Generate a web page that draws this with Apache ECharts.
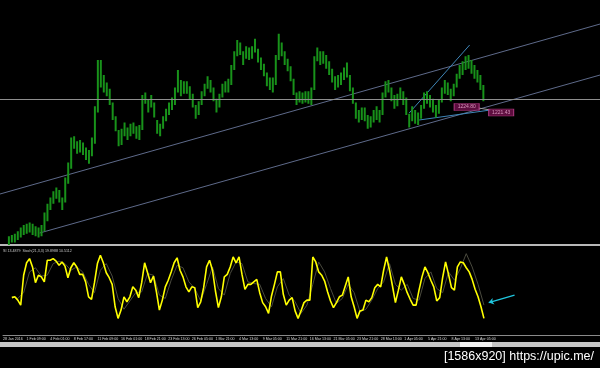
<!DOCTYPE html>
<html><head><meta charset="utf-8">
<script src="https://cdn.jsdelivr.net/npm/echarts@6/dist/echarts.min.js"></script>
<style>html,body{margin:0;padding:0;background:#000;}#c{width:600px;height:368px;}</style>
</head><body><div id="c"></div>
<script>
// ---- time axis (H1 bars) ----
const tickLabels = ["28 Jan 2016","1 Feb 09:00","4 Feb 01:00","8 Feb 17:00","11 Feb 09:00","16 Feb 01:00","18 Feb 21:00","23 Feb 13:00","26 Feb 05:00","1 Mar 21:00","4 Mar 13:00","9 Mar 05:00","11 Mar 21:00","16 Mar 13:00","21 Mar 05:00","23 Mar 21:00","28 Mar 13:00","1 Apr 05:00","5 Apr 21:00","8 Apr 13:00","13 Apr 05:00"];
const barsPerTick = 64;
const firstBar = 24, barStep = 8, signalStep = 16;

// ---- price (high / low per 8-bar sample) ----
const priceHigh = [1121,1122,1123,1125,1128,1130,1131,1132,1131,1129,
1128,1130,1140,1147,1152,1157,1160,1158,1152,1168,
1180,1200,1201,1197,1198,1196,1192,1190,1200,1225,
1262,1262,1250,1244,1239,1228,1217,1206,1207,1212,
1208,1211,1212,1209,1210,1234,1236,1230,1234,1228,
1214,1211,1217,1223,1228,1232,1240,1254,1246,1245,
1245,1241,1235,1226,1229,1237,1243,1249,1246,1240,
1231,1235,1243,1245,1247,1258,1269,1278,1276,1269,
1273,1272,1273,1279,1271,1264,1259,1252,1248,1248,
1266,1283,1276,1269,1263,1257,1247,1236,1237,1236,
1237,1237,1240,1265,1272,1269,1269,1266,1261,1255,
1249,1250,1252,1256,1260,1250,1240,1228,1222,1224,
1224,1218,1217,1222,1225,1222,1236,1245,1246,1240,
1234,1235,1240,1237,1232,1219,1225,1222,1220,1226,
1236,1237,1234,1231,1226,1230,1240,1246,1244,1239,
1243,1251,1258,1261,1265,1266,1262,1258,1254,1250,
1242];
const priceLow = [1114,1116,1116,1118,1120,1122,1123,1124,1122,1121,
1120,1121,1125,1133,1142,1147,1151,1148,1142,1148,
1163,1175,1191,1187,1188,1186,1182,1179,1185,1195,
1220,1240,1236,1233,1226,1214,1205,1193,1194,1201,
1198,1201,1203,1199,1198,1206,1227,1220,1224,1216,
1203,1201,1207,1213,1218,1222,1226,1236,1233,1235,
1235,1230,1224,1215,1218,1226,1233,1239,1236,1229,
1220,1224,1232,1236,1236,1242,1254,1265,1266,1258,
1263,1262,1263,1268,1260,1254,1249,1241,1238,1236,
1242,1262,1265,1258,1253,1245,1234,1226,1228,1227,
1228,1227,1226,1238,1261,1258,1259,1255,1250,1244,
1238,1240,1242,1246,1248,1237,1227,1215,1212,1214,
1213,1207,1208,1212,1214,1212,1218,1232,1236,1229,
1223,1225,1230,1226,1218,1208,1213,1211,1210,1215,
1223,1227,1224,1220,1216,1219,1228,1235,1234,1229,
1233,1240,1247,1250,1254,1255,1251,1247,1244,1238,
1229];

// ---- stochastic ----
const stochMain = [39,40,36,30,66,81,86,76,57,66,
64,58,84,84,86,83,78,82,77,63,
75,81,76,67,67,58,40,37,57,80,
90,81,69,63,55,28,14,24,40,34,
40,52,48,39,57,81,69,57,65,46,
24,36,52,60,70,81,87,72,64,52,
46,52,51,27,34,51,76,84,72,47,
27,40,64,67,76,88,81,88,67,49,
55,55,58,61,45,33,28,20,41,55,
70,70,43,30,36,39,23,14,23,33,
36,36,88,82,70,66,59,46,35,27,
33,40,42,53,64,40,28,14,23,24,
36,34,39,51,55,52,72,88,72,53,
33,48,64,55,45,37,30,30,48,64,
76,69,60,52,35,39,63,82,67,51,
48,76,82,81,75,70,61,49,40,28,
14];
const stochSignal = [40,38,45,70,75,65,66,80,83,80,
72,76,70,55,45,72,80,65,38,25,
35,45,46,68,66,42,38,60,78,75,
58,50,35,55,76,50,42,68,82,80,
58,56,55,38,28,52,62,42,34,20,
30,55,82,70,50,32,38,55,45,22,
25,36,50,58,80,55,48,55,38,36,
62,70,50,45,70,60,74,92,76,55,
30];
const stochText = "SI 13.4879  Stoch(21,3,3) 19.8988 10.5112";

// ---- drawn objects (bar, price) ----
const hLineLevel = 1230.8;
const channelUpper = [[0,1154.8],[1619,1290.8]];
const channelLower = [[107,1123.6],[1619,1250.0]];
const steepLine = [[1104,1219.6],[1267,1274.0]];
const supportLine = [[1131,1214.0],[1323,1222.0]];
const tagConnector = [[1291,1223.6],[1323,1222.0]];
const tagBars = [1259,1352];
const tagPrices = [1224.4,1220.0];
const tagTexts = ["1224.80","1221.43"];
const arrowStart = [1387,42];
const arrowEnd = [1317,33];
const watermark = "[1586x920] https://upic.me/";

const priceData = priceHigh.map((h,i)=>[firstBar+i*barStep, priceLow[i], h]);
const mainData = stochMain.map((v,i)=>[firstBar+i*barStep, v]);
const sigData = stochSignal.map((v,i)=>[firstBar+i*signalStep, v]);
const tagData = tagBars.map((b,i)=>({value:[b,tagPrices[i]], label:{formatter:tagTexts[i]}}));

const XMAX = 1618.67;
const lineS = (data,color,w)=>({type:'line',xAxisIndex:0,yAxisIndex:0,data,symbol:'none',silent:true,
  lineStyle:{color,width:w},z:3,clip:true});

const chart = echarts.init(document.getElementById('c'),null,{renderer:'canvas'});
chart.setOption({
  animation:false,
  backgroundColor:'#000',
  title:[
    {text:stochText,left:3,top:249,padding:0,textStyle:{color:'#c8c8c8',fontSize:3.6,fontWeight:'normal',fontFamily:'Liberation Sans'}},
    {text:watermark,right:6,top:350,padding:0,textStyle:{color:'#ffffff',fontSize:12.5,fontWeight:'normal',fontFamily:'Liberation Sans'}}
  ],
  grid:[
    {left:-7,right:0,top:0,height:245},
    {left:-7,right:0,top:247,height:83}
  ],
  xAxis:[
    {gridIndex:0,type:'value',min:0,max:XMAX,interval:barsPerTick,
     axisLine:{show:true,onZero:false,lineStyle:{color:'#b8b8b8',width:2}},
     axisTick:{show:false},axisLabel:{show:false},splitLine:{show:false}},
    {gridIndex:1,type:'value',min:0,max:XMAX,interval:barsPerTick,offset:5,
     axisLine:{show:true,onZero:false,lineStyle:{color:'#8a8a8a',width:1}},
     axisTick:{show:false},splitLine:{show:false},
     axisLabel:{show:true,align:'left',margin:2,fontSize:3.6,color:'#d8d8d8',fontFamily:'Liberation Sans',
       showMinLabel:true,showMaxLabel:false,hideOverlap:false,
       formatter:(v)=>{const k=Math.round(v/barsPerTick);return tickLabels[k]||'';}}}
  ],
  yAxis:[
    {gridIndex:0,type:'value',min:1114,max:1310,show:false,splitLine:{show:false}},
    {gridIndex:1,type:'value',min:0,max:100,show:false,splitLine:{show:false}}
  ],
  graphic:[
    {type:'rect',shape:{x:0,y:342,width:600,height:5},style:{fill:'#c6c6c6'},z:1},
    {type:'rect',shape:{x:460,y:342,width:32,height:5},style:{fill:'#f2f2f2'},z:2}
  ],
  series:[
    {type:'custom',xAxisIndex:0,yAxisIndex:0,data:priceData,silent:true,z:4,clip:true,
     encode:{x:0,y:[1,2]},
     renderItem:(params,api)=>{
       const x=api.value(0),lo=api.value(1),hi=api.value(2);
       const a=api.coord([x,hi]),b=api.coord([x,lo]);
       return {type:'rect',shape:{x:a[0]-1,y:a[1],width:2,height:Math.max(1,b[1]-a[1])},
         style:{fill:'#18921a'}};
     },
     markLine:{silent:true,symbol:['none','none'],label:{show:false},
       lineStyle:{color:'#8e8e8e',width:1,type:'solid'},data:[{yAxis:hLineLevel}]}},
    lineS(channelUpper,'#5e6a8a',1),
    lineS(channelLower,'#5e6a8a',1),
    lineS(steepLine,'#3f86b8',1),
    lineS(supportLine,'#3f86b8',1),
    lineS(tagConnector,'#9a9a9a',1),
    {type:'scatter',xAxisIndex:0,yAxisIndex:0,data:tagData,symbol:'rect',symbolSize:[25,7],silent:true,z:6,
     itemStyle:{color:'#74104e',borderColor:'#c2418e',borderWidth:0.6},
     label:{show:true,position:'inside',color:'#f3b4d8',fontSize:5,fontFamily:'Liberation Sans'}},
    {type:'line',xAxisIndex:1,yAxisIndex:1,data:sigData,symbol:'none',silent:true,z:2,
     lineStyle:{color:'#4a4a3e',width:1}},
    {type:'line',xAxisIndex:1,yAxisIndex:1,data:mainData,symbol:'none',silent:true,z:3,
     lineStyle:{color:'#ffff00',width:1.6},
     markLine:{silent:true,symbol:['none','arrow'],symbolSize:5,label:{show:false},
       lineStyle:{color:'#1fc6de',width:1.4,type:'solid'},
       data:[[{coord:arrowStart},{coord:arrowEnd}]]}}
  ]
});
</script></body></html>
